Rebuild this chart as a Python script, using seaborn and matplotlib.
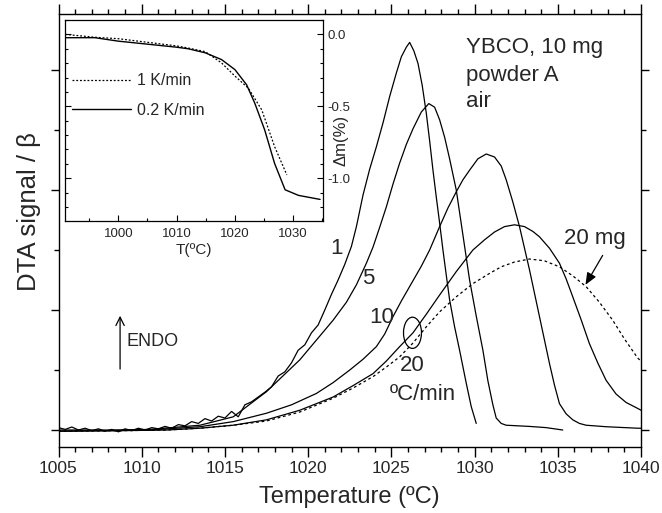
import numpy as np
import pandas as pd
import matplotlib
matplotlib.use("Agg")
import matplotlib.pyplot as plt
import seaborn as sns
from matplotlib.patches import Ellipse
from matplotlib.ticker import MultipleLocator

# ---------------- data ----------------
# 1 ºC/min (noisy)
t1 = [1005.0, 1005.4, 1005.8, 1006.2, 1006.6, 1007.0, 1007.4, 1007.8, 1008.2, 1008.6,
      1009.0, 1009.4, 1009.8, 1010.2, 1010.6, 1011.0, 1011.4, 1011.8, 1012.2, 1012.6,
      1013.0, 1013.4, 1013.8, 1014.2, 1014.6, 1015.0, 1015.4, 1015.8, 1016.2, 1016.6,
      1017.0, 1017.4, 1017.8, 1018.2, 1018.6, 1019.0, 1019.4, 1019.8, 1020.2, 1020.6,
      1021.0, 1021.4, 1021.8, 1022.2, 1022.6, 1022.9, 1023.3, 1023.7, 1024.1, 1024.5,
      1024.9, 1025.3, 1025.6, 1025.9, 1026.1, 1026.35, 1026.6, 1026.85, 1027.1, 1027.3,
      1027.5, 1027.7, 1027.9, 1028.1, 1028.3, 1028.5, 1028.8, 1029.1, 1029.5, 1029.8, 1030.1]
s1 = [0.04, 0.01, 0.05, 0.00, 0.03, -0.01, 0.02, -0.02, 0.01, -0.03,
      0.02, -0.01, 0.03, 0.00, 0.04, 0.02, 0.06, 0.03, 0.09, 0.07,
      0.14, 0.11, 0.19, 0.15, 0.23, 0.20, 0.31, 0.22, 0.42, 0.47,
      0.55, 0.63, 0.72, 0.90, 0.97, 1.12, 1.33, 1.42, 1.62, 1.75,
      2.00, 2.26, 2.50, 2.76, 3.06, 3.39, 3.92, 4.35, 4.72, 5.12,
      5.56, 5.95, 6.22, 6.38, 6.46, 6.32, 6.11, 5.75, 5.28, 4.82,
      4.33, 3.88, 3.45, 3.00, 2.58, 2.17, 1.72, 1.33, 0.78, 0.39, 0.11]

# 5 ºC/min
t5 = [1005.0, 1008.0, 1010.5, 1013.5, 1015.5, 1017.5, 1019.5, 1021.5, 1022.3, 1022.9,
      1023.5, 1023.9, 1024.3, 1024.7, 1025.1, 1025.5, 1025.9, 1026.3, 1026.8, 1027.25,
      1027.6, 1027.9, 1028.2, 1028.5, 1028.9, 1029.3, 1029.7, 1030.1, 1030.5, 1030.8,
      1031.1, 1031.3, 1031.6, 1031.9, 1033.3, 1034.3, 1035.3]
s5 = [0.00, 0.00, 0.01, 0.08, 0.22, 0.64, 1.17, 1.83, 2.13, 2.42,
      2.78, 3.05, 3.38, 3.72, 4.10, 4.45, 4.76, 5.02, 5.30, 5.44,
      5.38, 5.17, 4.88, 4.52, 4.00, 3.25, 2.50, 1.90, 1.33, 0.82,
      0.42, 0.20, 0.11, 0.08, 0.06, 0.04, 0.00]

# 10 ºC/min
t10 = [1005.0, 1008.0, 1010.5, 1013.5, 1015.5, 1017.5, 1019.0, 1020.5, 1021.5, 1022.5,
       1023.3, 1024.1, 1024.6, 1025.1, 1025.6, 1026.2, 1026.8, 1027.3, 1027.9, 1028.4,
       1028.9, 1029.3, 1029.7, 1030.2, 1030.7, 1031.2, 1031.6, 1031.9, 1032.3, 1032.7,
       1033.0, 1033.3, 1033.6, 1033.9, 1034.2, 1034.5, 1034.8, 1035.1, 1035.5, 1035.9,
       1036.3, 1036.7, 1037.9, 1039.8, 1040.0]
s10 = [-0.02, -0.01, 0.00, 0.055, 0.14, 0.28, 0.42, 0.61, 0.79, 1.00,
       1.18, 1.39, 1.60, 1.89, 2.15, 2.44, 2.73, 3.00, 3.39, 3.70,
       3.97, 4.17, 4.33, 4.52, 4.60, 4.55, 4.40, 4.17, 3.80, 3.39,
       3.03, 2.67, 2.28, 1.89, 1.50, 1.11, 0.75, 0.44, 0.27, 0.17,
       0.11, 0.08, 0.055, 0.03, 0.03]

# 20 ºC/min, 10 mg
t20 = [1005.0, 1009.0, 1011.5, 1013.5, 1015.5, 1017.5, 1019.5, 1021.5, 1022.7, 1023.9,
       1024.7, 1025.5, 1026.3, 1027.1, 1027.9, 1028.9, 1029.9, 1030.6, 1031.2, 1031.8,
       1032.4, 1033.0, 1033.5, 1033.9, 1034.5, 1035.1, 1035.5, 1035.9, 1036.4, 1036.9,
       1037.4, 1037.9, 1038.5, 1039.1, 1039.8, 1040.0]
s20 = [-0.02, -0.01, 0.00, 0.03, 0.08, 0.17, 0.33, 0.55, 0.74, 0.94,
       1.15, 1.39, 1.62, 1.93, 2.25, 2.64, 3.00, 3.17, 3.30, 3.39,
       3.42, 3.39, 3.31, 3.22, 3.03, 2.78, 2.52, 2.22, 1.84, 1.44,
       1.12, 0.83, 0.60, 0.46, 0.36, 0.33]

# 20 ºC/min, 20 mg (dotted)
t20mg = [1005.0, 1009.0, 1011.5, 1013.5, 1015.5, 1017.5, 1019.5, 1021.5, 1022.7, 1023.9,
         1024.7, 1025.5, 1026.3, 1027.1, 1027.9, 1028.9, 1029.9, 1030.9, 1031.6, 1032.4,
         1033.3, 1034.2, 1035.1, 1035.9, 1036.7, 1037.5, 1038.3, 1039.0, 1039.8, 1040.0]
s20mg = [-0.02, -0.01, 0.00, 0.03, 0.08, 0.15, 0.30, 0.53, 0.70, 0.89,
         1.05, 1.22, 1.45, 1.72, 1.97, 2.22, 2.44, 2.61, 2.72, 2.80,
         2.85, 2.82, 2.72, 2.57, 2.39, 2.13, 1.83, 1.52, 1.20, 1.15]

# inset TG curves
tg_t_02 = [990.9, 996.0, 1000.0, 1010.0, 1012.0, 1014.9, 1017.7, 1020.0, 1022.0, 1023.4,
           1025.1, 1026.8, 1028.6, 1030.9, 1034.6]
tg_m_02 = [-0.023, -0.023, -0.047, -0.089, -0.100, -0.128, -0.175, -0.245, -0.350, -0.478,
           -0.664, -0.897, -1.080, -1.119, -1.147]
tg_t_1 = [990.9, 996.0, 1000.0, 1010.0, 1012.0, 1014.9, 1017.7, 1020.0, 1022.3, 1024.6,
          1026.8, 1028.9]
tg_m_1 = [0.000, -0.020, -0.030, -0.080, -0.095, -0.120, -0.198, -0.290, -0.374, -0.525,
          -0.780, -0.977]

main_xticks = [1005, 1010, 1015, 1020, 1025, 1030, 1035, 1040]
inset_xticks = [1000, 1010, 1020, 1030]
inset_yticks = [0.0, -0.5, -1.0]
inset_ytick_labels = ["0.0", "-0.5", "-1.0"]

# ---------------- style ----------------
sns.set_theme(style="ticks")
plt.rcParams["font.family"] = ["Liberation Sans", "DejaVu Sans"]
plt.rcParams["axes.linewidth"] = 1.0
plt.rcParams["axes.edgecolor"] = "black"

fig = plt.figure(figsize=(6.62, 5.13), dpi=100)
ax = fig.add_axes([58.5 / 662, 1 - 447 / 513, (641 - 58.5) / 662, (447 - 14) / 513])

lw = 0.9
for tx, sy, ls in [(t1, s1, "-"), (t5, s5, "-"), (t10, s10, "-"), (t20, s20, "-"), (t20mg, s20mg, "--")]:
    df = pd.DataFrame({"T": tx, "S": sy})
    sns.lineplot(data=df, x="T", y="S", ax=ax, color="black", lw=lw, sort=False,
                 estimator=None, legend=False)
    if ls == "--":
        ax.lines[-1].set_dashes([2.2, 2.2])

ax.set_xlim(1005, 1040)
ax.set_ylim(-0.283, 6.933)
ax.set_xticks(main_xticks)
ax.xaxis.set_minor_locator(MultipleLocator(1))
ax.set_yticks([0, 2, 4, 6])
ax.yaxis.set_minor_locator(MultipleLocator(1))
ax.set_yticklabels([])
ax.tick_params(axis="both", which="both", direction="out", top=True, right=True,
               color="black", width=1.0)
ax.tick_params(axis="x", which="major", length=7, labelsize=12.5, pad=3)
ax.tick_params(axis="x", which="minor", length=3.5)
ax.tick_params(axis="y", which="major", length=6)
ax.tick_params(axis="y", which="minor", length=3.5)
for sp in ax.spines.values():
    sp.set_visible(True)
    sp.set_color("black")

ax.set_xlabel("Temperature (ºC)", fontsize=17, labelpad=7)
ax.set_ylabel("")
fig.text(29 / 662, 1 - 212 / 513, "DTA signal / β", rotation=90, ha="center", va="center",
         fontsize=18.5)

# annotations
ax.text(1021.71, 3.03, "1", fontsize=16, ha="center", va="center")
ax.text(1023.63, 2.52, "5", fontsize=16, ha="center", va="center")
ax.text(1024.41, 1.87, "10", fontsize=16, ha="center", va="center")
ax.text(1026.27, 1.08, "20", fontsize=16, ha="center", va="center")
ax.text(1026.87, 0.6, "ºC/min", fontsize=16, ha="center", va="center")
ax.text(1029.51, 6.38, "YBCO, 10 mg", fontsize=16, ha="left", va="center")
ax.text(1029.51, 5.90, "powder A", fontsize=16, ha="left", va="center")
ax.text(1029.51, 5.47, "air", fontsize=16, ha="left", va="center")
ax.text(1009.06, 1.48, "ENDO", fontsize=13, ha="left", va="center")
ax.annotate("", xy=(1008.7, 1.95), xytext=(1008.7, 0.97),
            arrowprops=dict(arrowstyle="->,head_length=0.5,head_width=0.25", color="black", lw=0.9))
ax.text(1037.24, 3.2, "20 mg", fontsize=16, ha="center", va="center")
ax.annotate("", xy=(1036.58, 2.38), xytext=(1037.78, 2.95),
            arrowprops=dict(arrowstyle="-|>,head_length=0.6,head_width=0.25", color="black", lw=0.9))
ax.add_patch(Ellipse((1026.27, 1.62), 1.08, 0.52, fill=False, edgecolor="black", lw=0.9))

# ---------------- inset ----------------
ins = fig.add_axes([65 / 662, 1 - 221 / 513, (323.3 - 65) / 662, (221 - 20) / 513])
df02 = pd.DataFrame({"T": tg_t_02, "m": tg_m_02})
df1 = pd.DataFrame({"T": tg_t_1, "m": tg_m_1})
sns.lineplot(data=df1, x="T", y="m", ax=ins, color="black", lw=0.9, sort=False,
             estimator=None, label="1 K/min")
ins.lines[-1].set_dashes([1.5, 1.5])
sns.lineplot(data=df02, x="T", y="m", ax=ins, color="black", lw=1.0, sort=False,
             estimator=None, label="0.2 K/min")
ins.set_xlim(990.86, 1035.15)
ins.set_ylim(-1.297, 0.10)
ins.set_xticks(inset_xticks)
ins.xaxis.set_minor_locator(MultipleLocator(5))
ins.set_yticks(inset_yticks)
ins.set_yticklabels(inset_ytick_labels)
ins.yaxis.set_minor_locator(MultipleLocator(0.1))
ins.tick_params(axis="both", which="both", direction="in", left=True, right=True,
                bottom=True, top=False, labelleft=False, labelright=True, color="black",
                width=0.8)
ins.tick_params(axis="both", which="major", length=4, labelsize=9.5, pad=3)
ins.tick_params(axis="x", which="major", pad=5)
ins.tick_params(axis="both", which="minor", length=2.5)
for sp in ins.spines.values():
    sp.set_visible(True)
    sp.set_color("black")
    sp.set_linewidth(0.9)
ins.set_xlabel("T(ºC)", fontsize=11, labelpad=2)
ins.set_ylabel("")
ins.text(1.069, 0.40, "Δm(%)", transform=ins.transAxes, rotation=90, fontsize=12,
         ha="center", va="center")
leg = ins.legend(loc="upper left", bbox_to_anchor=(0.027, 0.735), frameon=False,
                 fontsize=11.5, handlelength=3.7, handletextpad=0.35, labelspacing=0.9,
                 borderpad=0, borderaxespad=0)
for h in leg.get_lines():
    h.set_color("black")

fig.savefig("out.png", dpi=100)
